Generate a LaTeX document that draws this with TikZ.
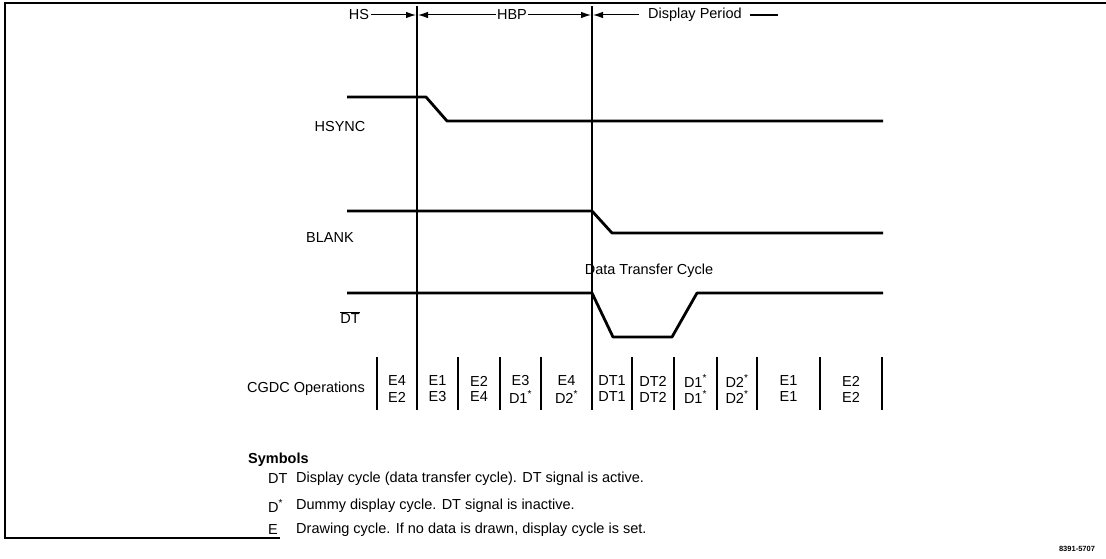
\documentclass[tikz,border=0pt]{standalone}
\usepackage{fontspec}
\setmainfont{Liberation Sans}
\usetikzlibrary{arrows.meta}
\begin{document}
\begin{tikzpicture}[x=1pt,y=-1pt,
  sig/.style={line width=2.8pt, line join=round},
  vline/.style={line width=1.3pt},
  sepbar/.style={line width=2.4pt},
  dimarrow/.style={line width=1pt,-{Latex[length=10pt,width=6.5pt]}},
  lab/.style={font=\fontsize{14.5}{17}\selectfont, inner sep=0pt},
  opl/.style={font=\fontsize{14.5}{17}\selectfont, inner sep=0pt},
  sym/.style={font=\fontsize{14.5}{17}\selectfont, inner sep=0pt, anchor=west},
  frame/.style={line width=2.2pt}]
\useasboundingbox (0,0) rectangle (1106,559);
% frame
\draw[frame] (1106,3) -- (5,3) -- (5,538) -- (280,538);
% vertical markers
\coordinate (t1top) at (417,6);
\coordinate (t1bot) at (417,410);
\coordinate (t2top) at (592,6);
\coordinate (t2bot) at (592,410);
\draw[vline] (t1top) -- (t1bot);
\draw[vline] (t2top) -- (t2bot);
% top labels
\node[lab] (hs) at (359,15) {HS};
\node[lab] (hbp) at (512,15) {HBP};
\node[lab,anchor=west] (dp) at (648,15) {Display Period};
\coordinate (hsend) at (416,15);
\coordinate (hbpl) at (418,15);
\coordinate (hbpr) at (591,15);
\coordinate (dpl) at (593,15);
\draw[dimarrow] ([xshift=2pt]hs.east) -- (hsend);
\draw[dimarrow] ([xshift=-1pt]hbp.west) -- (hbpl);
\draw[dimarrow] ([xshift=1pt]hbp.east) -- (hbpr);
\draw[dimarrow] ([xshift=-9pt]dp.west) -- (dpl);
\coordinate (dpdash) at (778,15);
\draw[line width=1.3pt] ([xshift=8pt]dp.east) -- (dpdash);
% HSYNC
\node[lab] (hsync) at (340,127) {HSYNC};
\draw[sig] (347,97) -- (426,97) -- (447,121) -- (883,121);
% BLANK
\node[lab] (blank) at (330,238) {BLANK};
\draw[sig] (347,211) -- (592,211) -- (612,233) -- (883,233);
% DT
\node[lab] (dtsig) at (350,318) {$\overline{\mbox{DT}}$};
\node[lab] (dtc) at (649,271) {Data Transfer Cycle};
\draw[sig] (347,293) -- (592,293) -- (613,337) -- (672,337) -- (697,293) -- (883,293);
% CGDC operations
\node[lab] (cgdc) at (306,389) {CGDC Operations};
\foreach \x in {377,458,500,541,632,674,717,757,820,882}
  \draw[sepbar] (\x,357) -- (\x,410);
\draw[sepbar] (417,357) -- (417,410);
\draw[sepbar] (592,357) -- (592,410);
\def\ops{397/E4/E2, 437.5/E1/E3, 479/E2/E4, 520.5/E3/D1\textsuperscript{*}, 566.5/E4/D2\textsuperscript{*}, 612/DT1/DT1, 653/DT2/DT2, 695.5/D1\textsuperscript{*}/D1\textsuperscript{*}, 737/D2\textsuperscript{*}/D2\textsuperscript{*}, 788.5/E1/E1, 851/E2/E2}
\foreach \x/\a/\b [count=\i] in \ops {
  \node[opl] (opa\i) at (\x,381) {\a};
  \node[opl] (opb\i) at (\x,397) {\b};
}
% Symbols
\node[sym,font=\fontsize{14.5}{17}\selectfont\bfseries] (symh) at (248,460) {Symbols};
\node[sym] (s1) at (268,479) {DT};
\node[sym] (s1t) at (296,479) {Display cycle (data transfer cycle). DT signal is active.};
\node[sym] (s2) at (268,506) {D\textsuperscript{*}};
\node[sym] (s2t) at (296,506) {Dummy display cycle. DT signal is inactive.};
\node[sym] (s3) at (268,530) {E};
\node[sym] (s3t) at (296,530) {Drawing cycle. If no data is drawn, display cycle is set.};
\node[font=\fontsize{7.5}{8}\selectfont\bfseries, inner sep=0pt] (fig) at (1077,549) {8391-5707};
\end{tikzpicture}
\end{document}
